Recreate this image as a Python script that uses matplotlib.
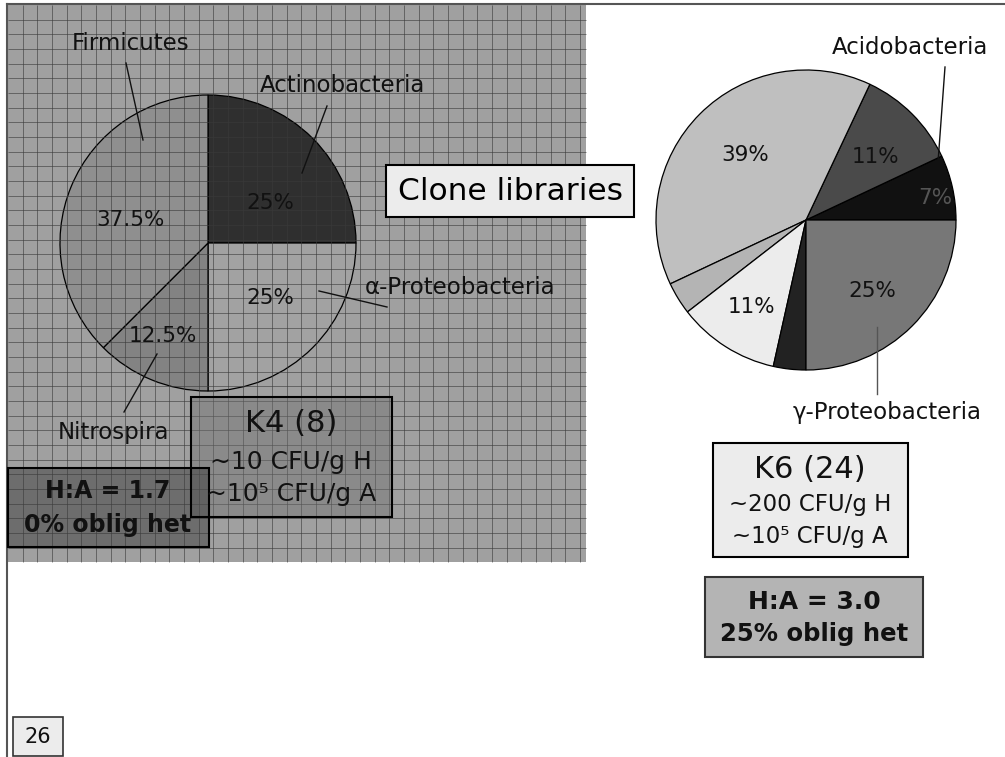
import numpy as np
import matplotlib
matplotlib.use("Agg")
import matplotlib.pyplot as plt
from matplotlib.patches import Rectangle

plt.rcParams['font.family'] = ['DejaVu Sans']

# ======== DATA ========
k4_labels = ["Actinobacteria", "α-Proteobacteria", "Nitrospira", "Firmicutes"]
k4_values = [25, 25, 12.5, 37.5]
k4_pct = ["25%", "25%", "12.5%", "37.5%"]
k4_colors = ["#2f2f2f", "#a2a2a2", "#838383", "#8f8f8f"]

k6_values = [7, 11, 39, 3.5, 11, 3.5, 25]
k6_pct = ["7%", "11%", "39%", "", "11%", "", "25%"]
k6_colors = ["#111111", "#4a4a4a", "#bfbfbf", "#b4b4b4", "#ececec", "#222222", "#777777"]

k4_info = ["K4 (8)", "~10 CFU/g H", "~10⁵ CFU/g A"]
k4_ratio = ["H:A = 1.7", "0% oblig het"]
k6_info = ["K6 (24)", "~200 CFU/g H", "~10⁵ CFU/g A"]
k6_ratio = ["H:A = 3.0", "25% oblig het"]
slide_no = "26"

W, H = 1005, 757

fig = plt.figure(figsize=(W / 100, H / 100), dpi=100)
ax = fig.add_axes([0, 0, 1, 1])

# ======== BACKGROUND (graph-paper panel) ========
ax.add_patch(Rectangle((8, 5), 578, 557, facecolor="#a0a0a0", edgecolor="none", zorder=0))

# page border lines
ax.plot([7, W], [4, 4], color="#555555", lw=1.5, zorder=1)
ax.plot([7, 7], [4, H], color="#555555", lw=1.5, zorder=1)

# ======== LEFT PIE (K4) ========
# y axis is inverted below, so data-counterclockwise shows clockwise on screen
ax.pie(k4_values, colors=k4_colors, startangle=-90, counterclock=True,
       center=(208, 243), radius=148,
       wedgeprops=dict(edgecolor="black", linewidth=0.9, zorder=2))

# grid lines drawn over the pie
gx = np.arange(22.7, 586, 14.67)
gy = np.arange(19.5, 562, 14.67)
ax.vlines(gx, 5, 562, color="#3a3a3a", lw=0.7, alpha=0.6, zorder=3)
ax.hlines(gy, 8, 586, color="#3a3a3a", lw=0.7, alpha=0.6, zorder=3)

k4_pct_pos = [(270, 203), (270, 298), (163, 336), (130, 220)]
for (x, y), t in zip(k4_pct_pos, k4_pct):
    ax.text(x, y, t, ha="center", va="center", fontsize=15.5, color="#111111", zorder=5)

# outer labels with leader lines
k4_label_pos = [(342, 85), (460, 287), (113, 433), (131, 43)]
k4_leaders = [((327, 106), (302, 173)), ((387, 307), (319, 291)),
              ((124, 412), (157, 354)), ((126, 63), (143, 140))]
for (x, y), t, (p0, p1) in zip(k4_label_pos, k4_labels, k4_leaders):
    ax.text(x, y, t, ha="center", va="center", fontsize=16.5, color="#111111", zorder=5)
    ax.plot([p0[0], p1[0]], [p0[1], p1[1]], color="#111111", lw=1.0, zorder=5)

# ======== RIGHT PIE (K6) ========
ax.pie(k6_values, colors=k6_colors, startangle=0, counterclock=False,
       center=(806, 220), radius=150,
       wedgeprops=dict(edgecolor="black", linewidth=0.9, zorder=2))

k6_pct_pos = [(935, 198), (876, 157), (745, 155), None, (752, 307), None, (872, 291)]
k6_txt_col = ["#555555", "#111111", "#111111", None, "#111111", None, "#111111"]
for pos, t, c in zip(k6_pct_pos, k6_pct, k6_txt_col):
    if pos is None:
        continue
    ax.text(pos[0], pos[1], t, ha="center", va="center", fontsize=15.5, color=c, zorder=5)

ax.text(910, 47, "Acidobacteria", ha="center", va="center", fontsize=16.5, color="#111111")
ax.plot([945, 937], [67, 176], color="#111111", lw=1.0, zorder=5)
ax.text(887, 413, "γ-Proteobacteria", ha="center", va="center", fontsize=16.5, color="#111111")
ax.plot([877, 877], [327, 394], color="#555555", lw=1.0, zorder=5)

# ======== TEXT BOXES ========
def box(x0, y0, x1, y1, fc, alpha=1.0, ec="black", lw=1.5):
    ax.add_patch(Rectangle((x0, y0), x1 - x0, y1 - y0, facecolor=fc, alpha=alpha,
                           edgecolor="none", zorder=6))
    ax.add_patch(Rectangle((x0, y0), x1 - x0, y1 - y0, facecolor="none",
                           edgecolor=ec, lw=lw, zorder=7))

box(386, 165, 634, 217, "#ececec")
ax.text(510, 191, "Clone libraries", ha="center", va="center", fontsize=22.5, zorder=8)

box(191, 397, 392, 517, "#707070", alpha=0.45)
ax.text(291, 424, k4_info[0], ha="center", va="center", fontsize=22, color="#111111", zorder=8)
ax.text(291, 462, k4_info[1], ha="center", va="center", fontsize=18, color="#111111", zorder=8)
ax.text(291, 494, k4_info[2], ha="center", va="center", fontsize=18, color="#111111", zorder=8)

box(8, 468, 209, 547, "#3c3c3c", alpha=0.5)
ax.text(108, 491, k4_ratio[0], ha="center", va="center", fontsize=17, fontweight="bold",
        color="#111111", zorder=8)
ax.text(108, 525, k4_ratio[1], ha="center", va="center", fontsize=17, fontweight="bold",
        color="#111111", zorder=8)

box(713, 443, 908, 557, "#ececec")
ax.text(810, 469, k6_info[0], ha="center", va="center", fontsize=22, color="#111111", zorder=8)
ax.text(810, 505, k6_info[1], ha="center", va="center", fontsize=16.5, color="#111111", zorder=8)
ax.text(810, 536, k6_info[2], ha="center", va="center", fontsize=16.5, color="#111111", zorder=8)

box(705, 577, 923, 657, "#b4b4b4", ec="#333333")
ax.text(814, 602, k6_ratio[0], ha="center", va="center", fontsize=18, fontweight="bold",
        color="#111111", zorder=8)
ax.text(814, 634, k6_ratio[1], ha="center", va="center", fontsize=17.5, fontweight="bold",
        color="#111111", zorder=8)

box(13, 717, 63, 756, "#ececec", ec="#333333", lw=1.2)
ax.text(38, 737, slide_no, ha="center", va="center", fontsize=15, color="#111111", zorder=8)

ax.set_xlim(0, W)
ax.set_ylim(H, 0)
ax.set_aspect("auto")
ax.axis("off")

fig.savefig("out.png", dpi=100, facecolor="white")
